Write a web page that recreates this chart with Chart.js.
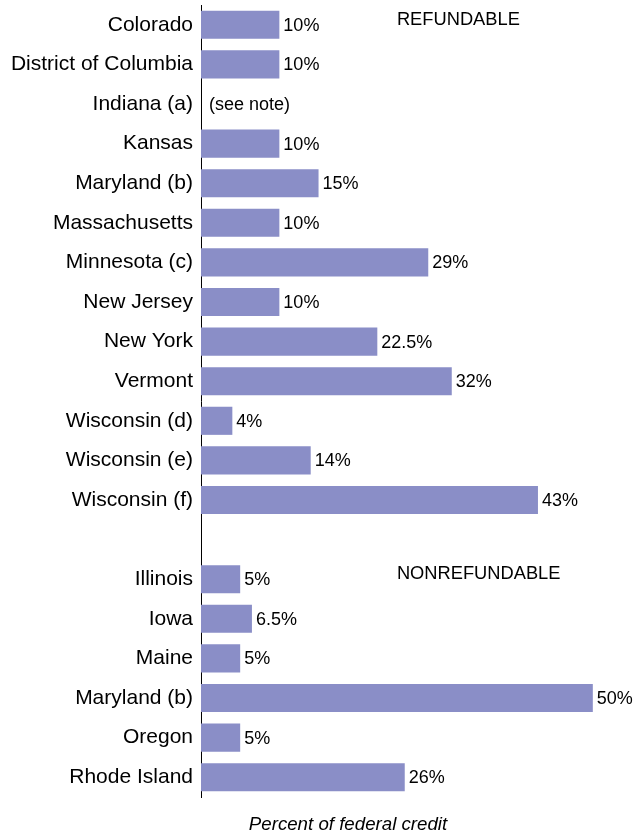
<!DOCTYPE html>
<html>
<head>
<meta charset="utf-8">
<script src="https://cdn.jsdelivr.net/npm/chart.js@4/dist/chart.umd.min.js"></script>
<style>
  body { margin: 0; background: #fff; }
  #wrap { width: 636px; height: 837px; }
</style>
</head>
<body>
<div id="wrap"><canvas id="creditChart" width="636" height="837"></canvas></div>
<script>
const states = ["Colorado", "District of Columbia", "Indiana (a)", "Kansas", "Maryland (b)", "Massachusetts",
  "Minnesota (c)", "New Jersey", "New York", "Vermont", "Wisconsin (d)", "Wisconsin (e)", "Wisconsin (f)", "",
  "Illinois", "Iowa", "Maine", "Maryland (b)", "Oregon", "Rhode Island"];
const percents = [10, 10, null, 10, 15, 10, 29, 10, 22.5, 32, 4, 14, 43, null, 5, 6.5, 5, 50, 5, 26];
const valueText = ["10%", "10%", "(see note)", "10%", "15%", "10%", "29%", "10%", "22.5%", "32%", "4%", "14%", "43%", "",
  "5%", "6.5%", "5%", "50%", "5%", "26%"];
const sections = [{ text: "REFUNDABLE", row: 0 }, { text: "NONREFUNDABLE", row: 14 }];
const axisTitle = "Percent of federal credit";
const barColor = "#8a8ec7";

const font = "'Liberation Sans', Arial, sans-serif";

// value labels, section headings and the bottom caption
const textPlugin = {
  id: "texts",
  afterDatasetsDraw(chart) {
    const ctx = chart.ctx;
    const x = chart.scales.x, y = chart.scales.y;
    ctx.save();
    ctx.fillStyle = "#000";
    ctx.font = "18px " + font;
    ctx.textBaseline = "middle";
    ctx.textAlign = "left";
    states.forEach((s, i) => {
      if (!valueText[i]) return;
      const v = percents[i] || 0;
      const off = percents[i] == null ? 8 : 4;
      ctx.fillText(valueText[i], x.getPixelForValue(v) + off, y.getPixelForValue(i) + 1);
    });
    ctx.font = "18.3px " + font;
    sections.forEach(sec => {
      ctx.fillText(sec.text, x.getPixelForValue(25), y.getPixelForValue(sec.row) - 5);
    });
    ctx.font = "italic 18.7px " + font;
    ctx.textAlign = "center";
    ctx.fillText(axisTitle, 348, 825);
    ctx.restore();
  }
};

new Chart(document.getElementById("creditChart"), {
  type: "bar",
  data: {
    labels: states,
    datasets: [{ data: percents, backgroundColor: barColor, barPercentage: 0.71, categoryPercentage: 1 }]
  },
  options: {
    indexAxis: "y",
    responsive: false,
    animation: false,
    layout: { padding: { top: 5, bottom: 40, right: 4, left: 0 } },
    plugins: { legend: { display: false }, tooltip: { enabled: false } },
    scales: {
      x: { display: false, min: 0, max: 55 },
      y: {
        afterFit: (scale) => { scale.width = 201; scale.paddingTop = 0; scale.paddingBottom = 0; },
        grid: { display: false, drawTicks: false },
        border: { display: true, color: "#000", width: 1 },
        ticks: { color: "#000", padding: 8, font: { family: font, size: 21 } }
      }
    }
  },
  plugins: [textPlugin]
});
</script>
</body>
</html>
